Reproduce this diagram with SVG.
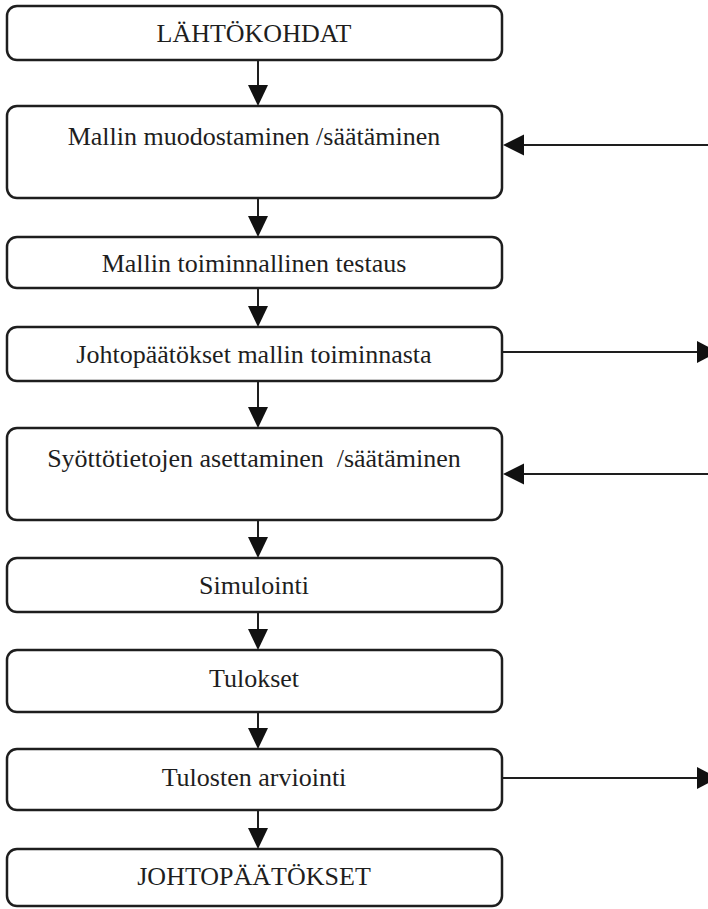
<svg xmlns="http://www.w3.org/2000/svg" width="708" height="909" viewBox="0 0 708 909">
<style>
.box{fill:#fff;stroke:#1e1e1e;stroke-width:2.5}
.lbl{font-family:"Liberation Serif","Times New Roman",serif;font-size:26px;fill:#1e1e1e;text-anchor:middle;white-space:pre}
.ln{stroke:#1e1e1e;stroke-width:2;fill:none}
.ah{fill:#111}
</style>
<rect width="708" height="909" fill="#fff"/>
<g id="n1"><rect class="box" x="7" y="6" width="495" height="54" rx="10"/><text class="lbl" x="254" y="42">LÄHTÖKOHDAT</text></g>
<g id="n2"><rect class="box" x="7" y="106" width="495" height="92" rx="10"/><text class="lbl" x="254" y="145">Mallin muodostaminen /säätäminen</text></g>
<g id="n3"><rect class="box" x="7" y="237" width="495" height="51" rx="10"/><text class="lbl" x="254" y="272">Mallin toiminnallinen testaus</text></g>
<g id="n4"><rect class="box" x="7" y="327" width="495" height="54" rx="10"/><text class="lbl" x="254" y="363">Johtopäätökset mallin toiminnasta</text></g>
<g id="n5"><rect class="box" x="7" y="428" width="495" height="92" rx="10"/><text class="lbl" x="254" y="467">Syöttötietojen asettaminen  /säätäminen</text></g>
<g id="n6"><rect class="box" x="7" y="558" width="495" height="54" rx="10"/><text class="lbl" x="254" y="594">Simulointi</text></g>
<g id="n7"><rect class="box" x="7" y="650" width="495" height="62" rx="10"/><text class="lbl" x="254" y="687">Tulokset</text></g>
<g id="n8"><rect class="box" x="7" y="749" width="495" height="61" rx="10"/><text class="lbl" x="254" y="786">Tulosten arviointi</text></g>
<g id="n9"><rect class="box" x="7" y="849" width="495" height="57" rx="10"/><text class="lbl" x="254" y="885">JOHTOPÄÄTÖKSET</text></g>
<g id="connectors">
<line class="ln" x1="258" y1="60" x2="258" y2="90"/><polygon class="ah" points="248,85 268,85 258,106"/>
<line class="ln" x1="258" y1="198" x2="258" y2="220"/><polygon class="ah" points="248,216 268,216 258,237"/>
<line class="ln" x1="258" y1="288" x2="258" y2="310"/><polygon class="ah" points="248,306 268,306 258,327"/>
<line class="ln" x1="258" y1="381" x2="258" y2="410"/><polygon class="ah" points="248,407 268,407 258,428"/>
<line class="ln" x1="258" y1="520" x2="258" y2="540"/><polygon class="ah" points="248,537 268,537 258,558"/>
<line class="ln" x1="258" y1="612" x2="258" y2="632"/><polygon class="ah" points="248,629 268,629 258,650"/>
<line class="ln" x1="258" y1="712" x2="258" y2="732"/><polygon class="ah" points="248,728 268,728 258,749"/>
<line class="ln" x1="258" y1="810" x2="258" y2="832"/><polygon class="ah" points="248,828 268,828 258,849"/>
<line class="ln" x1="708" y1="145" x2="520" y2="145"/><polygon class="ah" points="503,145 524,134.5 524,155.5"/>
<line class="ln" x1="708" y1="474" x2="520" y2="474"/><polygon class="ah" points="503,474 524,463.5 524,484.5"/>
<line class="ln" x1="502" y1="352" x2="700" y2="352"/><polygon class="ah" points="697,341 718,352 697,363"/>
<line class="ln" x1="502" y1="778" x2="700" y2="778"/><polygon class="ah" points="697,767 718,778 697,789"/>
</g>
</svg>
